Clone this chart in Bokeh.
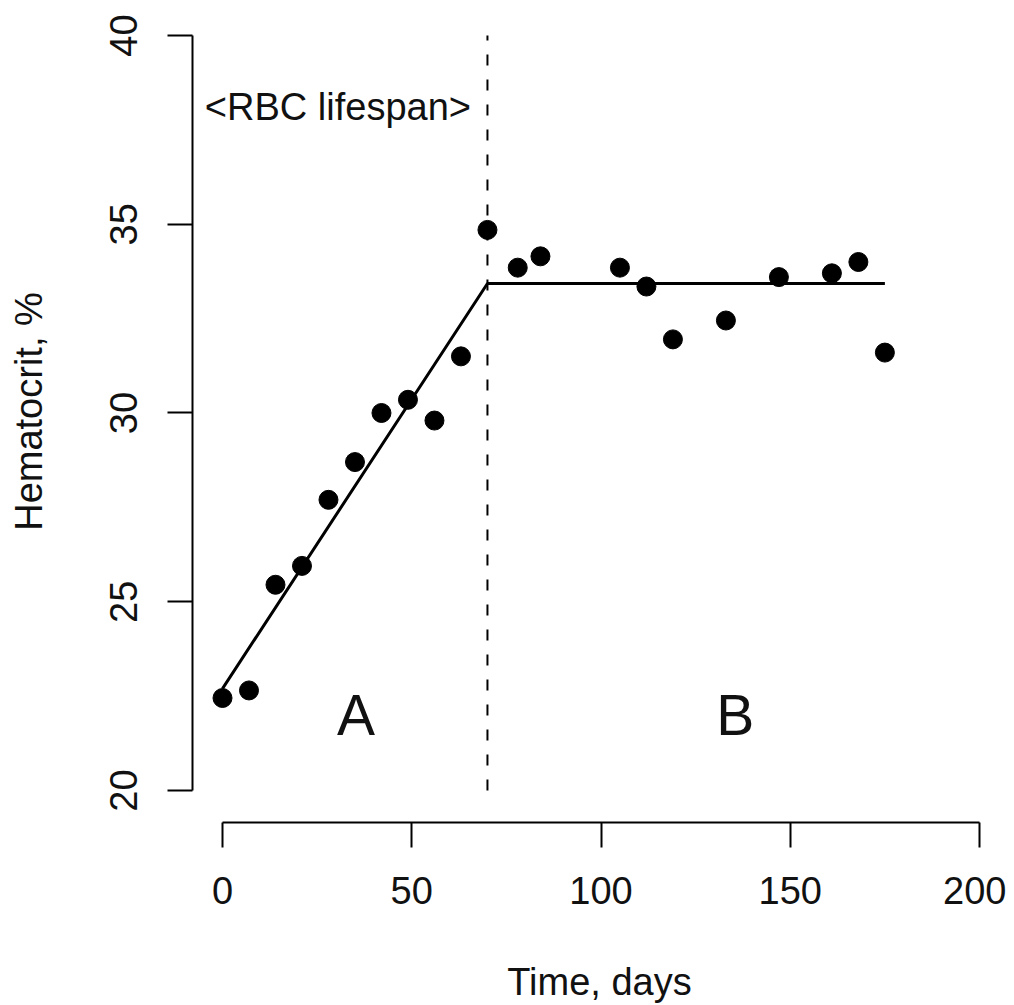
from bokeh.plotting import figure
from bokeh.models import Range1d, LinearAxis, FixedTicker
from bokeh.core.properties import value
from bokeh.embed import file_html
from bokeh.resources import INLINE

# ---- data ----
days = [0, 7, 14, 21, 28, 35, 42, 49, 56, 63, 70, 78, 84, 105, 112, 119, 133, 147, 161, 168, 175]
hematocrit = [22.45, 22.65, 25.45, 25.95, 27.7, 28.7, 30.0, 30.35, 29.8, 31.5, 34.85,
              33.85, 34.15, 33.85, 33.35, 31.95, 32.45, 33.6, 33.7, 34.0, 31.6]
fit_days = [0, 70, 175]
fit_hct = [22.7, 33.43, 33.43]
lifespan_x = [70]
lifespan_y0 = [20]
lifespan_y1 = [40]
region_x = [35.3, 135.5]
region_y = [22.0, 22.0]
region_text = ["A", "B"]
note_x = [30.5]
note_y = [38.1]
note_text = ["<RBC lifespan>"]
x_ticks = [0, 50, 100, 150, 200]
y_ticks = [20, 25, 30, 35, 40]
x_title = "Time, days"
y_title = "Hematocrit, %"

FONT = "Liberation Sans"
FS = "38px"

p = figure(width=1006, height=1005, output_backend="svg", toolbar_location=None,
           x_range=Range1d(-7.926, 207.13), y_range=Range1d(19.152, 40.927),
           x_axis_type=None, y_axis_type=None,
           min_border_left=192, min_border_right=0, min_border_top=0, min_border_bottom=183)
p.outline_line_color = None
p.background_fill_color = "white"
p.border_fill_color = "white"


def style_axis(ax):
    ax.axis_line_color = "black"
    ax.axis_line_width = 2
    ax.major_tick_line_color = "black"
    ax.major_tick_line_width = 2
    ax.major_tick_out = 25
    ax.major_tick_in = 0
    ax.minor_tick_line_color = None
    ax.major_label_text_font = FONT
    ax.major_label_text_font_size = FS
    ax.major_label_text_color = "#111111"
    ax.axis_label_text_font = FONT
    ax.axis_label_text_font_size = FS
    ax.axis_label_text_font_style = "normal"
    ax.axis_label_text_color = "#111111"


xaxis = LinearAxis(ticker=FixedTicker(ticks=x_ticks), bounds=(x_ticks[0], x_ticks[-1]),
                   axis_label=x_title)
style_axis(xaxis)
xaxis.major_label_standoff = 29
xaxis.axis_label_standoff = 54
p.add_layout(xaxis, "below")

yaxis = LinearAxis(ticker=FixedTicker(ticks=y_ticks), bounds=(y_ticks[0], y_ticks[-1]),
                   axis_label=y_title)
style_axis(yaxis)
yaxis.major_label_orientation = "vertical"
yaxis.major_label_standoff = 30
yaxis.axis_label_standoff = 58
p.add_layout(yaxis, "left")

# dashed RBC lifespan marker
p.segment(x0=lifespan_x, y0=lifespan_y0, x1=lifespan_x, y1=lifespan_y1,
          line_color="black", line_width=2, line_dash="11 14")

# fitted broken line
p.line(fit_days, fit_hct, line_color="black", line_width=3)

# observations
p.scatter(days, hematocrit, size=19, fill_color="black", line_color="black")

# annotations
p.text(x=note_x, y=note_y, text=note_text, text_font=value(FONT), text_font_size=FS,
       text_align="center", text_baseline="middle", text_color="#111111")
p.text(x=region_x, y=region_y, text=region_text, text_font=value(FONT), text_font_size="57px",
       text_align="center", text_baseline="middle", text_color="#111111")

open("out.html", "w").write(file_html(p, INLINE))
